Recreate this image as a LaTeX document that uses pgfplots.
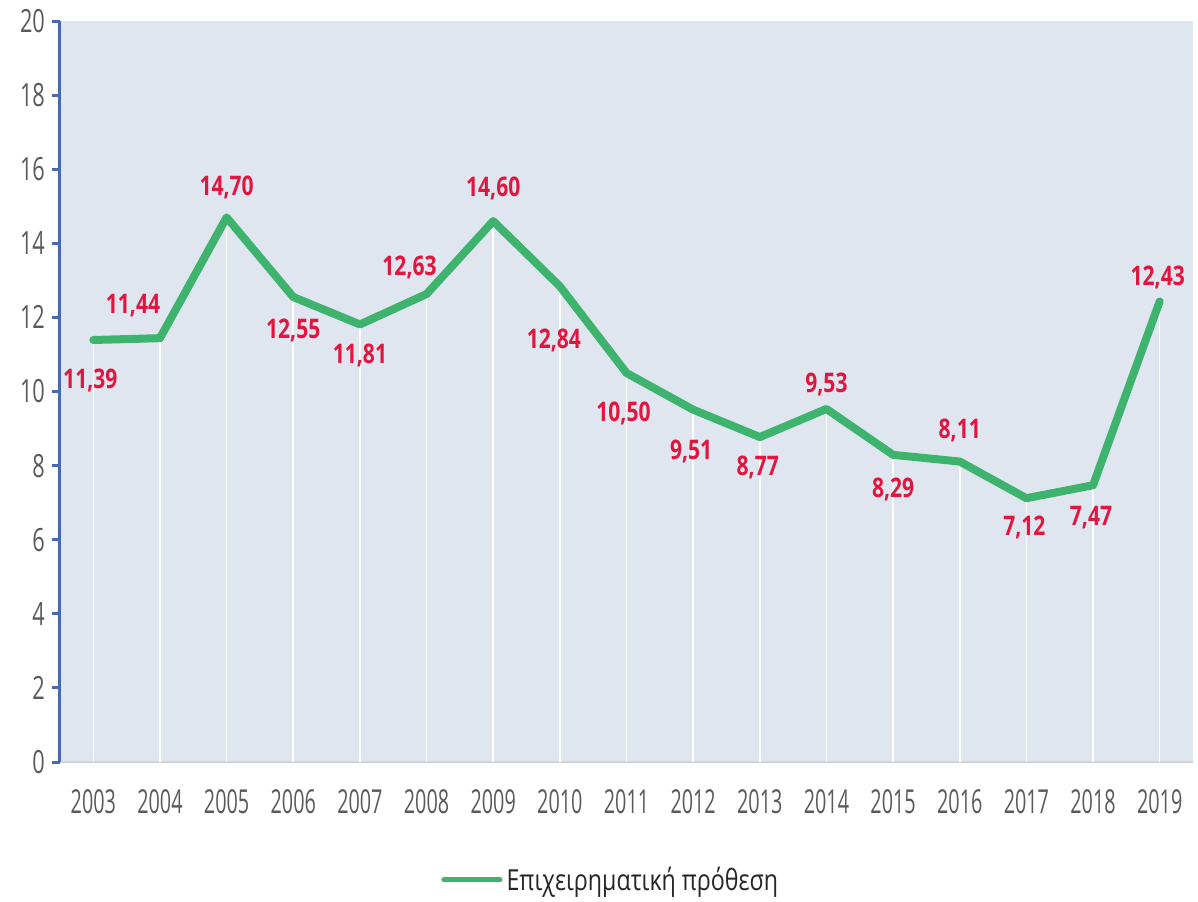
\documentclass[border=0pt]{standalone}
\usepackage{fontspec}
\setmainfont{Open Sans}
\newfontfamily\ytickfont[FakeStretch=0.68]{Open Sans}
\newfontfamily\xtickfont[FakeStretch=0.6]{Open Sans}
\newfontfamily\labfont[FakeStretch=0.78]{Open Sans}
\newfontfamily\legfont[FakeStretch=0.8]{Open Sans}
\usepackage{pgfplots}
\pgfplotsset{compat=1.18}
\usepackage{pgfplotstable}
\definecolor{bg}{HTML}{DFE6F0}
\definecolor{lgreen}{HTML}{3DB36E}
\definecolor{lred}{HTML}{E0163F}
\definecolor{ablue}{HTML}{4A68B2}
\definecolor{tgray}{HTML}{5A5A5A}

\pgfplotstableread{
x y dx dy lab
0 11.39 -1.5 -20 11,39
1 11.44 -13.5 16.5 11,44
2 14.70 0 15 14,70
3 12.55 0 -16.5 12,55
4 11.81 0 -15.5 11,81
5 12.63 -8.5 13.5 12,63
6 14.60 0 16.5 14,60
7 12.84 -3 -27 12,84
8 10.50 -1.5 -20 10,50
9 9.51 -1 -21 9,51
10 8.77 -1 -15 8,77
11 9.53 0 12 9,53
12 8.29 0 -17.5 8,29
13 8.11 0 15.5 8,11
14 7.12 -1 -14.5 7,12
15 7.47 -1 -16 7,47
16 12.43 -1 12 12,43
}\data

\begin{document}
\begin{tikzpicture}
\begin{axis}[
  width=566.5pt, height=370.5pt, scale only axis,
  xmin=-0.5, xmax=16.5, ymin=0, ymax=20,
  axis background/.style={fill=bg},
  axis x line*=bottom, axis y line*=left,
  x axis line style={draw=gray!35, line width=1pt},
  y axis line style={draw=ablue, line width=1.5pt},
  xtick={0,...,16},
  xticklabels={2003,2004,2005,2006,2007,2008,2009,2010,2011,2012,2013,2014,2015,2016,2017,2018,2019},
  x tick style={draw=none},
  ytick={0,2,...,20},
  y tick style={draw=ablue, line width=1.5pt},
  tick align=outside, major tick length=4pt,
  /pgf/number format/assume math mode=true,
  yticklabel style={font=\ytickfont\fontsize{16}{16}\selectfont, text=tgray},
  xticklabel style={font=\xtickfont\fontsize{16.5}{16.5}\selectfont, text=tgray, yshift=-6pt},
  clip=false,
  legend style={at={(0.487,-0.159)}, anchor=center, draw=none, fill=none,
    font=\legfont\fontsize{14.5}{14.5}\selectfont, text=black!85},
  legend image code/.code={\draw[lgreen, line width=2.6pt, line cap=round] (0pt,0pt) -- (28pt,0pt);},
]
\addplot[ycomb, white, line width=0.8pt, forget plot] table[x=x,y=y]{\data};
\addplot[lgreen, line width=4pt, line join=round, line cap=round, mark=none,
  nodes near coords, point meta=explicit symbolic,
  visualization depends on={\thisrow{dx} \as \dx},
  visualization depends on={\thisrow{dy} \as \dy},
  every node near coord/.append style={anchor=center, xshift=\dx pt, yshift=\dy pt,
    font=\labfont\bfseries\fontsize{13.5}{13.5}\selectfont, text=lred}]
  table[x=x,y=y,meta=lab]{\data};
\addlegendentry{Επιχειρηματική πρόθεση}
\end{axis}
\pgfresetboundingbox
\path[use as bounding box] (current axis.south west) ++(-30pt,-69.5pt) rectangle ++(599pt,450.5pt);
\end{tikzpicture}
\end{document}
